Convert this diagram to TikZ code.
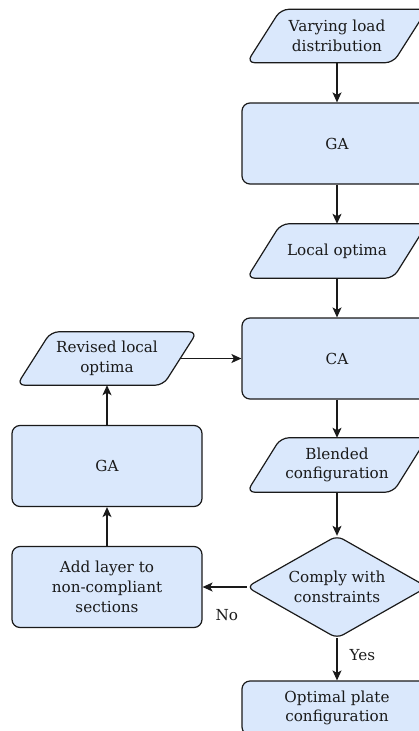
\documentclass[tikz,border=0pt]{standalone}
\usepackage{fontspec}
\setmainfont{DejaVu Serif}
\usetikzlibrary{shapes.geometric,arrows.meta,backgrounds,calc}
\definecolor{boxfill}{HTML}{DAE8FC}
\definecolor{boxline}{HTML}{1A1A1A}
\begin{document}
\begin{tikzpicture}[x=1pt,y=-1pt,
  txt/.style={font=\fontsize{15.2}{19.8}\selectfont, text=boxline, align=center, inner sep=0pt},
  pbox/.style={txt, minimum width=180pt, minimum height=53pt},
  rbox/.style={txt, draw=boxline, fill=boxfill, line width=1.2pt, rounded corners=8pt, minimum width=190pt, minimum height=81pt},
  dbox/.style={txt, minimum width=180pt, minimum height=102pt},
  shp/.style={draw=boxline, fill=boxfill, line width=1.2pt, rounded corners=8pt},
  arr/.style={-{Stealth[length=10pt,width=9pt,inset=2.5pt]}, line width=1.2pt, draw=boxline},
  lbl/.style={font=\fontsize{15.2}{18}\selectfont, text=boxline, inner sep=0pt}
]
\useasboundingbox (0,0) rectangle (419,731);
\clip (0,0) rectangle (419,731);

% right column
\node[pbox] (vl) at (337,36) {Varying load\\distribution};
\node[rbox] (ga1) at (337,143.5) {GA};
\node[pbox, minimum height=54pt] (lo) at (337,251) {Local optima};
\node[rbox] (ca) at (337,358.5) {CA};
\node[pbox, minimum height=54pt] (bc) at (337,465) {Blended\\configuration};
\node[dbox] (dia) at (337,587) {Comply with\\constraints};
\node[rbox, minimum height=54pt] (opt) at (337,708) {Optimal plate\\configuration};

% left column
\node[pbox] (rl) at (107,358.5) {Revised local\\optima};
\node[rbox] (ga2) at (107,466) {GA};
\node[rbox] (add) at (107,587) {Add layer to\\non-compliant\\sections};

\begin{scope}[on background layer]
\foreach \n in {vl,lo,bc,rl}{
  \draw[shp] (\n.south west) -- ([xshift=-34pt]\n.south east) -- (\n.north east) -- ([xshift=34pt]\n.north west) -- cycle;
}
\draw[shp, rounded corners=7pt] (dia.west) -- (dia.north) -- (dia.east) -- (dia.south) -- cycle;
\end{scope}

\draw[arr] (vl.south) -- (ga1.north);
\draw[arr] (ga1.south) -- (lo.north);
\draw[arr] (lo.south) -- (ca.north);
\draw[arr] (ca.south) -- (bc.north);
\draw[arr] (bc.south) -- (dia.north);
\draw[arr] (dia.south) -- node[lbl, pos=0.4, right=12pt] {Yes} (opt.north);
\draw[arr] (dia.west) -- node[lbl, pos=0.45, below=22pt] {No} (add.east);
\draw[arr] (add.north) -- (ga2.south);
\draw[arr] (ga2.north) -- (rl.south);
\draw[arr] ([xshift=-17pt]rl.east) -- (ca.west);
\end{tikzpicture}
\end{document}
